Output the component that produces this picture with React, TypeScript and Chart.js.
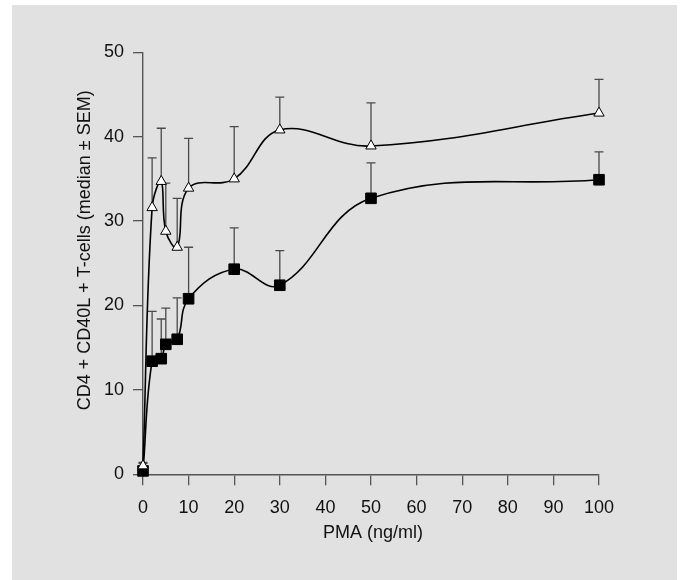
import React, { useEffect, useRef } from "react";
import { Chart, registerables } from "chart.js";

Chart.register(...registerables);

// PMA concentrations (ng/ml)
const pmaDoses = [0, 2, 4, 5, 7.5, 10, 20, 30, 50, 100];
// Open triangles series: median and median + SEM
const triangleMedian = [1.0, 31.6, 34.7, 28.8, 26.9, 33.9, 35.0, 40.8, 38.9, 42.8];
const triangleUpper = [1.4, 37.5, 41.0, 34.5, 32.7, 39.8, 41.2, 44.7, 44.0, 46.8];
// Filled squares series: median and median + SEM
const squareMedian = [0.4, 13.4, 13.7, 15.4, 16.0, 20.8, 24.3, 22.4, 32.7, 34.9];
const squareUpper = [1.3, 19.3, 18.4, 19.7, 20.9, 26.9, 29.2, 26.5, 36.9, 38.2];

const xTitle = "PMA (ng/ml)";
const yTitle = "CD4 + CD40L + T-cells (median ± SEM)";

const FONT = "'Liberation Sans', Arial, Helvetica, sans-serif";

const errorBarPlugin = {
  id: "errorBars",
  beforeDatasetsDraw(chart: any) {
    const { ctx, scales } = chart;
    const xs = scales.x;
    const ys = scales.y;
    ctx.save();
    ctx.strokeStyle = "#4a4a4a";
    ctx.lineWidth = 1.3;
    chart.data.datasets.forEach((ds: any) => {
      const uppers: number[] = ds.upper || [];
      ds.data.forEach((pt: any, i: number) => {
        const up = uppers[i];
        if (up === undefined) return;
        const px = xs.getPixelForValue(pt.x);
        const py0 = ys.getPixelForValue(pt.y);
        const py1 = ys.getPixelForValue(up);
        ctx.beginPath();
        ctx.moveTo(px, py0);
        ctx.lineTo(px, py1);
        ctx.moveTo(px - 4.5, py1);
        ctx.lineTo(px + 4.5, py1);
        ctx.stroke();
      });
    });
    ctx.restore();
  },
};

const axisTitlePlugin = {
  id: "axisTitles",
  afterDraw(chart: any) {
    const { ctx, chartArea } = chart;
    ctx.save();
    ctx.fillStyle = "#111";
    ctx.font = `18px ${FONT}`;
    ctx.textAlign = "center";
    ctx.textBaseline = "middle";
    ctx.fillText(xTitle, (chartArea.left + chartArea.right) / 2 + 2, 533);
    ctx.translate(85.5, (chartArea.top + chartArea.bottom) / 2 - 13);
    ctx.rotate(-Math.PI / 2);
    ctx.fillText(yTitle, 0, 0);
    ctx.restore();
  },
};

export default function App() {
  const canvasRef = useRef<HTMLCanvasElement | null>(null);

  useEffect(() => {
    const canvas = canvasRef.current;
    if (!canvas) return;
    const toPts = (ys: number[]) => pmaDoses.map((x, i) => ({ x, y: ys[i] }));
    const chart = new Chart(canvas, {
      type: "scatter",
      data: {
        datasets: [
          {
            label: "triangles",
            data: toPts(triangleMedian),
            upper: triangleUpper,
            showLine: true,
            tension: 0.4,
            borderColor: "#000",
            borderWidth: 1.6,
            pointStyle: "triangle",
            pointRadius: 6,
            pointBackgroundColor: "#fff",
            pointBorderColor: "#000",
            pointBorderWidth: 1,
            clip: false,
          } as any,
          {
            label: "squares",
            data: toPts(squareMedian),
            upper: squareUpper,
            showLine: true,
            tension: 0.4,
            borderColor: "#000",
            borderWidth: 1.6,
            pointStyle: "rect",
            pointRadius: 7.5,
            pointBackgroundColor: "#000",
            pointBorderColor: "#000",
            pointBorderWidth: 1,
            clip: false,
          } as any,
        ],
      },
      options: {
        responsive: false,
        animation: false,
        events: [],
        layout: { padding: { top: 52.3, right: 83, bottom: 0, left: 0 } },
        plugins: {
          legend: { display: false },
          tooltip: { enabled: false },
        },
        scales: {
          x: {
            type: "linear",
            min: 0,
            max: 100,
            afterFit(scale: any) {
              scale.height = 105.7;
            },
            ticks: {
              stepSize: 10,
              color: "#111",
              padding: 12,
              maxRotation: 0,
              font: { family: FONT, size: 18 },
            },
            grid: {
              display: true,
              drawOnChartArea: false,
              drawTicks: true,
              tickLength: 11,
              color: "#555",
              lineWidth: 1.3,
            },
            border: { display: true, color: "#555", width: 1.4 },
            title: { display: false },
          },
          y: {
            type: "linear",
            min: 0,
            max: 50,
            afterFit(scale: any) {
              scale.width = 143;
            },
            ticks: {
              stepSize: 10,
              color: "#111",
              padding: 9,
              font: { family: FONT, size: 18 },
            },
            grid: {
              display: true,
              drawOnChartArea: false,
              drawTicks: true,
              tickLength: 10,
              color: "#555",
              lineWidth: 1.3,
            },
            border: { display: true, color: "#555", width: 1.4 },
            title: { display: false },
          },
        },
      },
      plugins: [errorBarPlugin, axisTitlePlugin],
    } as any);
    return () => chart.destroy();
  }, []);

  return (
    <div
      style={{
        position: "fixed",
        left: 0,
        top: 0,
        width: 682,
        height: 580,
        background: "#fff",
        overflow: "hidden",
      }}
    >
      <div
        style={{
          position: "absolute",
          left: 12,
          top: 5,
          width: 665,
          height: 575,
          background: "#e1e1e1",
        }}
      />
      <canvas
        ref={canvasRef}
        width={682}
        height={580}
        style={{ position: "absolute", left: 0, top: 0, width: 682, height: 580 }}
      />
    </div>
  );
}
